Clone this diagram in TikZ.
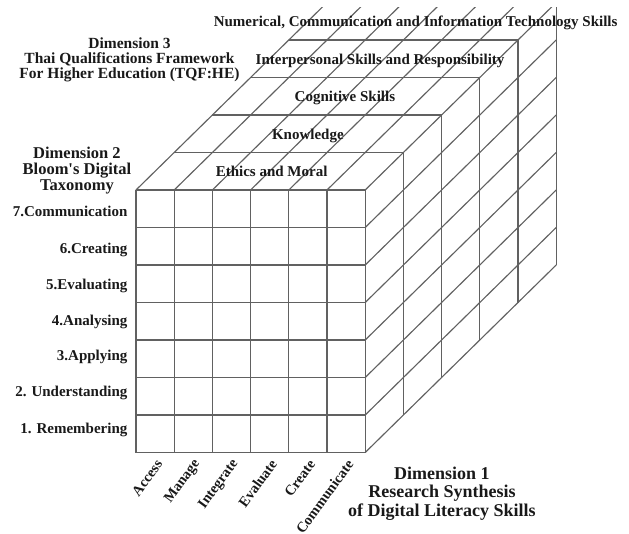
\documentclass[tikz,border=0pt]{standalone}
\usepackage{fontspec}
\setmainfont{Liberation Serif}

\begin{document}
\begin{tikzpicture}[x=38.2pt, y=37.5pt,
  rebro/.style={line width=1.15pt, black!62},
  podpis/.style={inner sep=0pt, text=black!90, font=\bfseries\fontsize{15}{15}\selectfont},
  kolonka/.style={inner sep=0pt, text=black!90, anchor=east, rotate=54, font=\bfseries\fontsize{14.5}{14.5}\selectfont}]
\useasboundingbox (-3.560,-2.147) rectangle (12.906,12.067);

\begin{scope}
\clip (-4,-3) rectangle (13,11.88);

% perednyaya gran'
\draw [rebro] (0,0)--(6,0);
\draw [rebro] (0,1)--(6,1);
\draw [rebro] (0,2)--(6,2);
\draw [rebro] (0,3)--(6,3);
\draw [rebro] (0,4)--(6,4);
\draw [rebro] (0,5)--(6,5);
\draw [rebro] (0,6)--(6,6);
\draw [rebro] (0,7)--(6,7);

\draw [rebro] (0,0)--(0,7);
\draw [rebro] (1,0)--(1,7);
\draw [rebro] (2,0)--(2,7);
\draw [rebro] (3,0)--(3,7);
\draw [rebro] (4,0)--(4,7);
\draw [rebro] (5,0)--(5,7);
\draw [rebro] (6,0)--(6,7);

% verkhnyaya gran'
\draw [rebro] (1,8)--(7,8);
\draw [rebro] (2,9)--(8,9);
\draw [rebro] (3,10)--(9,10);
\draw [rebro] (4,11)--(10,11);
\draw [rebro] (5,12)--(11,12);

\draw [rebro] (0,7)--(5,12);
\draw [rebro] (1,7)--(6,12);
\draw [rebro] (2,7)--(7,12);
\draw [rebro] (3,7)--(8,12);
\draw [rebro] (4,7)--(9,12);
\draw [rebro] (5,7)--(10,12);
\draw [rebro] (6,7)--(11,12);

% pravaya gran'
\draw [rebro] (7,1)--(7,8);
\draw [rebro] (8,2)--(8,9);
\draw [rebro] (9,3)--(9,10);
\draw [rebro] (10,4)--(10,11);
\draw [rebro] (11,5)--(11,12);

\draw [rebro] (6,0)--(11,5);
\draw [rebro] (6,1)--(11,6);
\draw [rebro] (6,2)--(11,7);
\draw [rebro] (6,3)--(11,8);
\draw [rebro] (6,4)--(11,9);
\draw [rebro] (6,5)--(11,10);
\draw [rebro] (6,6)--(11,11);
\end{scope}

% urovni TQF
\node [podpis, anchor=base] (t1) at (3.55,7.35) {Ethics and Moral};
\node [podpis, anchor=base] (t2) at (4.50,8.35) {Knowledge};
\node [podpis, anchor=base] (t3) at (5.47,9.35) {Cognitive Skills};
\node [podpis, anchor=base] (t4) at (6.39,10.35) {Interpersonal Skills and Responsibility};
\node [podpis, anchor=base] (t5) at (7.32,11.35) {Numerical, Communication and Information Technology Skills};

% urovni Bloom
\node [podpis, anchor=base east] (r7) at (-0.22,6.29) {7.Communication};
\node [podpis, anchor=base east] (r6) at (-0.22,5.31) {6.Creating};
\node [podpis, anchor=base east] (r5) at (-0.22,4.35) {5.Evaluating};
\node [podpis, anchor=base east] (r4) at (-0.22,3.40) {4.Analysing};
\node [podpis, anchor=base east] (r3) at (-0.22,2.45) {3.Applying};
\node [podpis, anchor=base east] (r2) at (-0.22,1.49) {2. Understanding};
\node [podpis, anchor=base east] (r1) at (-0.22,0.51) {1. Remembering};

% navyki
\node [kolonka] (c1) at (0.61,-0.23) {Access};
\node [kolonka] (c2) at (1.61,-0.23) {Manage};
\node [kolonka] (c3) at (2.61,-0.23) {Integrate};
\node [kolonka] (c4) at (3.61,-0.23) {Evaluate};
\node [kolonka] (c5) at (4.61,-0.23) {Create};
\node [kolonka] (c6) at (5.61,-0.23) {Communicate};

% izmereniya
\node [podpis, anchor=north, align=center, font=\bfseries\fontsize{18}{18.3}\selectfont] (dim1) at (8.01,-0.38)
  {Dimension 1\\Research Synthesis\\of Digital Literacy Skills};
\node [podpis, anchor=north, align=center, font=\bfseries\fontsize{16.5}{16.3}\selectfont] (dim2) at (-1.545,8.155)
  {Dimension 2\\Bloom\textquotesingle s Digital\\Taxonomy};
\node [podpis, anchor=north, align=center, font=\bfseries\fontsize{15.5}{15}\selectfont] (dim3) at (-0.17,11.06)
  {Dimension 3\\Thai Qualifications Framework\\For Higher Education (TQF:HE)};
\end{tikzpicture}
\end{document}
